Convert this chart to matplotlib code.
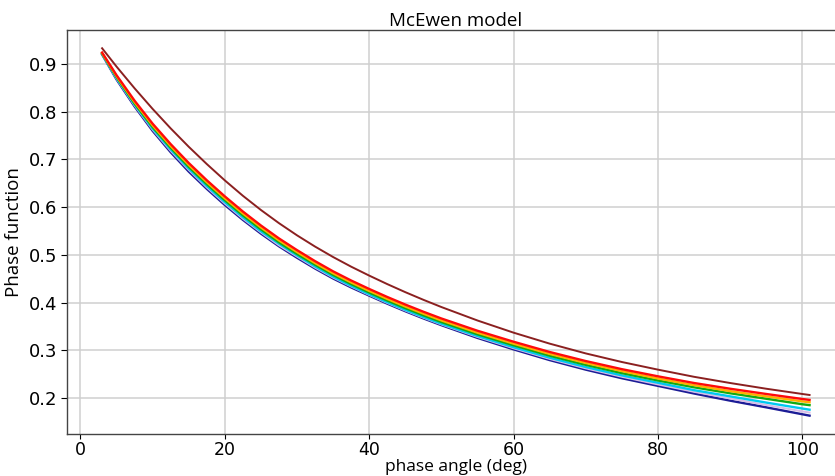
import matplotlib
matplotlib.use("Agg")
import matplotlib.pyplot as plt

phase_angle = [3, 5, 7.5, 10, 12.5, 15, 17.5, 20, 22.5, 25, 27.5, 30, 32.5, 35, 37.5,
               40, 42.5, 45, 47.5, 50, 55, 60, 65, 70, 75, 80, 85, 90, 95, 100, 101]

navy_vals = [0.9200, 0.8676, 0.8111, 0.7599, 0.7151, 0.6746, 0.6384, 0.6046, 0.5734,
             0.5446, 0.5180, 0.4940, 0.4714, 0.4505, 0.4318, 0.4146, 0.3978, 0.3819,
             0.3669, 0.3527, 0.3260, 0.3020, 0.2795, 0.2595, 0.2415, 0.2255, 0.2095,
             0.1945, 0.1805, 0.1660, 0.1631]
lavender_vals = [0.9205, 0.8691, 0.8131, 0.7624, 0.7181, 0.6781, 0.6414, 0.6076, 0.5759,
                 0.5471, 0.5200, 0.4965, 0.4734, 0.4525, 0.4338, 0.4161, 0.3993, 0.3834,
                 0.3684, 0.3542, 0.3280, 0.3043, 0.2820, 0.2622, 0.2445, 0.2285, 0.2130,
                 0.1990, 0.1855, 0.1720, 0.1696]
cyan_vals = [0.9210, 0.8706, 0.8151, 0.7649, 0.7211, 0.6811, 0.6444, 0.6106, 0.5789,
             0.5496, 0.5235, 0.4990, 0.4759, 0.4545, 0.4353, 0.4176, 0.4008, 0.3849,
             0.3699, 0.3557, 0.3300, 0.3065, 0.2845, 0.2650, 0.2475, 0.2320, 0.2165,
             0.2035, 0.1905, 0.1780, 0.1756]
green_vals = [0.9220, 0.8726, 0.8171, 0.7679, 0.7246, 0.6846, 0.6484, 0.6146, 0.5829,
              0.5536, 0.5265, 0.5020, 0.4794, 0.4580, 0.4388, 0.4211, 0.4043, 0.3884,
              0.3734, 0.3592, 0.3335, 0.3105, 0.2887, 0.2695, 0.2522, 0.2368, 0.2225,
              0.2100, 0.1985, 0.1870, 0.1851]
orange_vals = [0.9230, 0.8746, 0.8201, 0.7714, 0.7281, 0.6886, 0.6524, 0.6186, 0.5869,
               0.5576, 0.5305, 0.5060, 0.4829, 0.4615, 0.4423, 0.4246, 0.4078, 0.3919,
               0.3769, 0.3627, 0.3370, 0.3140, 0.2925, 0.2735, 0.2565, 0.2410, 0.2270,
               0.2145, 0.2035, 0.1930, 0.1911]
red_vals = [0.9240, 0.8766, 0.8231, 0.7749, 0.7321, 0.6926, 0.6564, 0.6226, 0.5909,
            0.5616, 0.5345, 0.5100, 0.4869, 0.4655, 0.4463, 0.4286, 0.4118, 0.3959,
            0.3809, 0.3667, 0.3410, 0.3180, 0.2965, 0.2775, 0.2605, 0.2455, 0.2315,
            0.2195, 0.2085, 0.1980, 0.1961]
darkred_vals = [0.9330, 0.8946, 0.8491, 0.8059, 0.7651, 0.7266, 0.6904, 0.6561, 0.6239,
                0.5941, 0.5665, 0.5410, 0.5174, 0.4955, 0.4753, 0.4566, 0.4388, 0.4219,
                0.4059, 0.3907, 0.3625, 0.3370, 0.3140, 0.2935, 0.2755, 0.2595, 0.2445,
                0.2315, 0.2195, 0.2085, 0.2064]

series = [navy_vals, lavender_vals, cyan_vals, green_vals, orange_vals, red_vals, darkred_vals]
colors = ["#1c1c96", "#d8bce8", "#00c8f0", "#12aa12", "#ffb000", "#ff0a0a", "#8b2020"]
widths = [1.7, 1.4, 1.7, 1.7, 1.7, 1.7, 1.4]

title = "McEwen model"
xlabel = "phase angle (deg)"
ylabel = "Phase function"
xticks = [0, 20, 40, 60, 80, 100]
yticks = [0.2, 0.3, 0.4, 0.5, 0.6, 0.7, 0.8, 0.9]

fig = plt.figure(figsize=(8.35, 4.76), dpi=100)
ax = fig.add_axes([0.0799, 0.0882, 0.932, 0.849])

for vals, c, lw in zip(series, colors, widths):
    ax.plot(phase_angle, vals, color=c, linewidth=lw, solid_joinstyle="round")

ax.set_xticks(xticks)
ax.set_yticks(yticks)
ax.tick_params(axis="y", labelsize=13, length=4, pad=3)
ax.tick_params(axis="x", labelsize=12.5, length=3.5, pad=1.5)
ax.grid(True, color="#cfcfcf", linewidth=1.1)
ax.set_axisbelow(True)
for s in ax.spines.values():
    s.set_color("#444444")
    s.set_linewidth(1.0)

ax.set_title(title, fontsize=13.5, family="Open Sans", pad=3)
ax.set_xlabel(xlabel, fontsize=12.5, family="Open Sans", labelpad=0)
ax.set_ylabel(ylabel, fontsize=13.5, family="Open Sans", labelpad=4)

fig.savefig("out.png", dpi=100)
